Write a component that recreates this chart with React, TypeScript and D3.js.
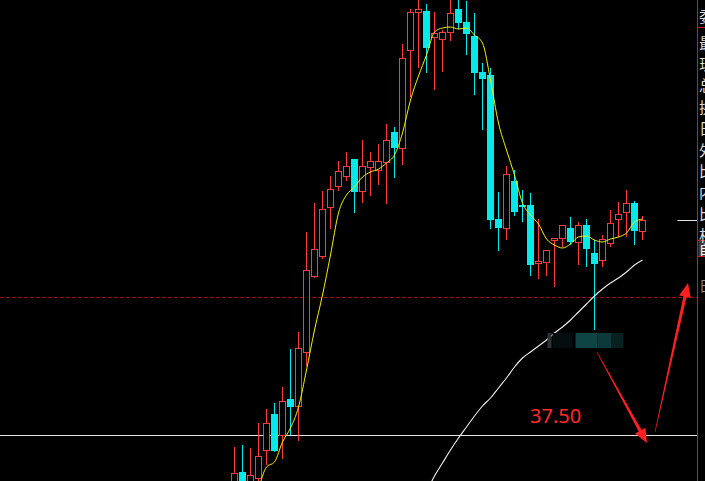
import React, { useEffect, useRef } from 'react';
import * as d3 from 'd3';

const W = 705;
const H = 481;

// daily candles, oldest first
const opens = [
  34.75, 35.65, 34.75, 35.35, 36.75, 38.55, 37.5, 39.3, 38.95, 41.65,
  45.45, 46.45, 48.9, 49.95, 50.45, 51.3, 49.7, 50.9, 50.75, 51.15,
  52.65, 51.85, 56.75, 58.65, 58.7, 57.4, 57.3, 57.65, 58.8, 58.15,
  57.45, 55.65, 55.5, 48.3, 47.85, 50.2, 49.0, 49.0, 46.1, 46.15,
  47.25, 47.35, 47.85, 47.15, 48.0, 46.6, 46.25, 47.1, 48.3, 48.65,
  49.1, 47.7,
];
const highs = [
  36.9, 37.0, 36.85, 38.1, 38.8, 39.1, 39.9, 41.8, 42.65, 47.65,
  49.1, 49.7, 50.45, 51.2, 51.65, 51.3, 52.25, 51.65, 52.05, 53.05,
  52.9, 57.05, 58.8, 59.35, 59.05, 58.65, 57.75, 59.35, 59.35, 59.2,
  58.6, 56.1, 55.85, 49.65, 50.95, 50.75, 49.75, 49.6, 48.3, 46.75,
  47.35, 48.0, 48.4, 48.15, 48.3, 47.25, 47.5, 48.75, 49.15, 49.75,
  49.2, 48.45,
];
const lows = [
  34.45, 34.65, 34.55, 35.15, 36.0, 36.65, 36.3, 37.5, 37.2, 40.95,
  45.35, 46.3, 47.8, 49.7, 50.2, 48.6, 49.1, 49.45, 50.0, 49.05,
  50.35, 51.0, 54.4, 55.85, 55.6, 54.75, 55.65, 57.2, 57.8, 56.5,
  54.5, 52.75, 47.8, 46.7, 47.25, 48.45, 48.15, 45.45, 45.3, 45.45,
  44.9, 46.9, 47.0, 46.0, 45.9, 42.75, 45.9, 46.9, 47.4, 47.4,
  47.0, 47.25,
];
const closes = [
  35.6, 34.85, 35.5, 36.45, 38.1, 36.7, 39.2, 38.9, 41.85, 45.75,
  46.8, 48.8, 49.8, 50.7, 50.95, 49.65, 50.95, 51.2, 51.2, 52.25,
  51.85, 56.35, 58.65, 58.8, 56.85, 57.6, 57.65, 58.6, 58.1, 57.55,
  55.6, 55.3, 48.25, 47.85, 50.55, 48.65, 48.9, 46.0, 46.2, 46.75,
  47.35, 48.0, 47.15, 48.0, 46.8, 46.05, 47.3, 48.1, 48.55, 49.1,
  47.7, 48.25,
];

// short moving average (yellow), starts at the 4th candle
const maShort = [
  null, null, null, 34.75, 35.9, 36.15, 37.15, 37.85, 38.9, 40.75,
  42.75, 44.5, 46.5, 48.6, 49.5, 49.9, 50.4, 50.65, 50.8, 51.1,
  51.5, 52.6, 54.25, 55.45, 56.5, 57.65, 57.85, 57.9, 57.8, 57.85,
  57.5, 57.1, 55.25, 53.1, 51.75, 50.5, 49.1, 48.5, 48.05, 47.3,
  47.0, 46.85, 47.05, 47.4, 47.45, 47.25, 47.15, 47.3, 47.4, 47.6,
  48.15, 48.3,
];
// long moving average (white), enters the view at the 25th candle
const maLong = [
  null, null, null, null, null, null, null, null, null, null,
  null, null, null, null, null, null, null, null, null, null,
  null, null, null, null, 34.65, 35.45, 36.1, 36.75, 37.35, 37.9,
  38.45, 38.95, 39.35, 39.85, 40.35, 40.9, 41.35, 41.65, 41.95, 42.25,
  42.6, 42.9, 43.25, 43.65, 44.05, 44.45, 44.8, 45.1, 45.35, 45.65,
  46.0, 46.25,
];

const supportPrice = 37.5;
const supportLabel = '37.50';
const refPrice = 44.4;

// hand-drawn arrows: [candle index, price]
const arrowStarts = [[45.3, 41.65], [52.56, 37.65]];
const arrowEnds = [[51.56, 37.1], [56.69, 45.1]];

const sideTop = '委';
const sideLabels = ['最', '现', '总', '换', '日', '外', '比', '内', '比', '相'];

const UP = '#ff3c3c';
const DOWN = '#00eaea';

function arrowPath(x0: number, y0: number, x1: number, y1: number) {
  const dx = x1 - x0;
  const dy = y1 - y0;
  const len = Math.hypot(dx, dy);
  const ux = dx / len, uy = dy / len;
  const nx = -uy, ny = ux;
  const headLen = 14, headHalf = 6, w0 = 0.6, w1 = 3.2;
  const bx = x1 - ux * headLen, by = y1 - uy * headLen;
  const pts = [
    [x0 + nx * w0 / 2, y0 + ny * w0 / 2],
    [bx + nx * w1 / 2, by + ny * w1 / 2],
    [bx + nx * headHalf, by + ny * headHalf],
    [x1, y1],
    [bx - nx * headHalf, by - ny * headHalf],
    [bx - nx * w1 / 2, by - ny * w1 / 2],
    [x0 - nx * w0 / 2, y0 - ny * w0 / 2],
  ];
  return 'M' + pts.map(p => `${p[0].toFixed(1)},${p[1].toFixed(1)}`).join('L') + 'Z';
}

export default function App() {
  const svgRef = useRef<SVGSVGElement | null>(null);

  useEffect(() => {
    document.body.style.margin = '0';
    document.body.style.background = '#000';
    if (!svgRef.current) return;

    const svg = d3.select(svgRef.current);
    svg.selectAll('*').remove();

    const x = d3.scaleLinear().domain([0, 51]).range([234.5, 642.5]);
    const y = d3.scaleLinear().domain([59.25, 35.2]).range([0, H]);
    const panelX = 697.5;

    svg.append('rect').attr('width', W).attr('height', H).attr('fill', '#000');

    const plot = svg.append('g');

    // dashed reference line
    plot.append('line')
      .attr('x1', 0).attr('x2', panelX)
      .attr('y1', Math.round(y(refPrice)) + 0.5).attr('y2', Math.round(y(refPrice)) + 0.5)
      .attr('stroke', '#a00c0c').attr('stroke-width', 1)
      .attr('stroke-dasharray', '4,2');

    // support line
    plot.append('line')
      .attr('x1', 0).attr('x2', panelX)
      .attr('y1', Math.round(y(supportPrice)) + 0.5).attr('y2', Math.round(y(supportPrice)) + 0.5)
      .attr('stroke', '#e4e4e4').attr('stroke-width', 1);

    // candles
    const candles = plot.append('g').attr('shape-rendering', 'crispEdges');
    opens.forEach((o, i) => {
      const c = closes[i];
      const cx = x(i);
      const top = Math.round(y(Math.max(o, c)));
      const bot = Math.round(y(Math.min(o, c)));
      const hi = Math.round(y(highs[i]));
      const lo = Math.round(y(lows[i]));
      if (c >= o) {
        if (hi < top) candles.append('line').attr('x1', cx).attr('x2', cx).attr('y1', hi).attr('y2', top).attr('stroke', UP);
        if (lo > bot) candles.append('line').attr('x1', cx).attr('x2', cx).attr('y1', bot).attr('y2', lo).attr('stroke', UP);
        candles.append('rect')
          .attr('x', cx - 3).attr('y', top + 0.5)
          .attr('width', 6).attr('height', Math.max(1, bot - top))
          .attr('fill', '#000').attr('stroke', UP).attr('stroke-width', 1);
      } else {
        candles.append('line').attr('x1', cx).attr('x2', cx).attr('y1', hi).attr('y2', lo).attr('stroke', DOWN);
        candles.append('rect')
          .attr('x', cx - 3.5).attr('y', top)
          .attr('width', 7).attr('height', Math.max(1, bot - top))
          .attr('fill', DOWN);
      }
    });

    // moving averages
    const maLine = d3.line<number | null>()
      .defined(d => d !== null)
      .x((_, i) => x(i))
      .y(d => y(d as number))
      .curve(d3.curveMonotoneX);

    plot.append('path').datum(maLong)
      .attr('d', maLine).attr('fill', 'none')
      .attr('stroke', '#f0f0f0').attr('stroke-width', 1.1);

    plot.append('path').datum(maShort)
      .attr('d', maLine).attr('fill', 'none')
      .attr('stroke', '#f4f400').attr('stroke-width', 1);

    // blurred low-price tag under the long lower shadow of the pullback
    const from = 33;
    const lowIdx = from + d3.minIndex(lows.slice(from));
    const lx = x(lowIdx);
    const ly = Math.round(y(lows[lowIdx]));
    const blocks = [
      [-47, 4, '#2a3434'], [-42, 20, '#060d0d'], [-19, 22, '#0e4444'],
      [3, 14, '#0c3a3a'], [17, 12, '#082020'],
    ];
    blocks.forEach(([dx, w, col]) => {
      plot.append('rect')
        .attr('x', lx + (dx as number)).attr('y', ly + 3)
        .attr('width', w as number).attr('height', 15)
        .attr('fill', col as string);
    });

    // last close marker
    plot.append('line')
      .attr('x1', panelX - 20).attr('x2', panelX)
      .attr('y1', Math.round(y(closes[closes.length - 1])) + 0.5)
      .attr('y2', Math.round(y(closes[closes.length - 1])) + 0.5)
      .attr('stroke', '#e4e4e4');

    // annotation
    plot.append('text')
      .attr('x', x(36.95)).attr('y', y(supportPrice) - 12)
      .attr('fill', '#ff2a2a')
      .style('font-family', '"Noto Sans", "Open Sans", sans-serif')
      .style('font-size', '20px')
      .text(supportLabel);

    arrowStarts.forEach((s, k) => {
      const e = arrowEnds[k];
      plot.append('path')
        .attr('d', arrowPath(x(s[0]), y(s[1]), x(e[0]), y(e[1])))
        .attr('fill', '#ff2020');
    });

    // right info panel (cut off by the window edge)
    const panel = svg.append('g');
    panel.append('line')
      .attr('x1', panelX).attr('x2', panelX).attr('y1', 0).attr('y2', H)
      .attr('stroke', '#cc1c1c');
    [27.5, 240.5, 256.5].forEach(yy => {
      panel.append('line')
        .attr('x1', panelX).attr('x2', W).attr('y1', yy).attr('y2', yy)
        .attr('stroke', '#cc1c1c');
    });
    panel.append('rect')
      .attr('x', panelX + 1).attr('y', 241).attr('width', 8).attr('height', 15)
      .attr('fill', '#3c3c3c');

    const cjk = '"Noto Sans CJK SC", sans-serif';
    panel.append('text')
      .attr('x', 699).attr('y', 15).attr('dominant-baseline', 'central')
      .attr('fill', '#dcdcdc').style('font-family', cjk).style('font-size', '15px')
      .text(sideTop);
    sideLabels.forEach((t, i) => {
      panel.append('text')
        .attr('x', 699).attr('y', 42 + i * 21.4).attr('dominant-baseline', 'central')
        .attr('fill', '#dcdcdc').style('font-family', cjk).style('font-size', '15px')
        .text(t);
    });
    panel.append('text')
      .attr('x', 699).attr('y', 248.5).attr('dominant-baseline', 'central')
      .attr('fill', '#ffffff').style('font-family', cjk).style('font-size', '13px')
      .text('自');
    panel.append('text')
      .attr('x', 699).attr('y', 285).attr('dominant-baseline', 'central')
      .attr('fill', '#8a8a8a').style('font-family', cjk).style('font-size', '14px')
      .text('日');
  }, []);

  return (
    <svg
      ref={svgRef}
      width={W}
      height={H}
      style={{ display: 'block', background: '#000' }}
    />
  );
}
